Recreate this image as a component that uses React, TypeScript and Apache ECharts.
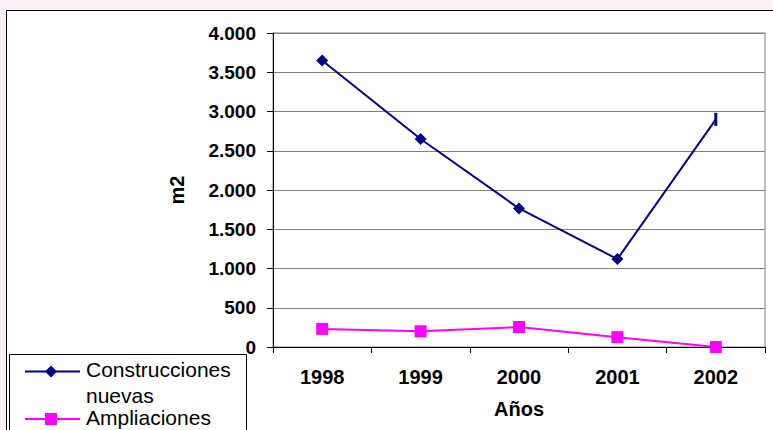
import React, { useEffect, useRef } from "react";
import * as echarts from "echarts";

const years = ["1998", "1999", "2000", "2001", "2002"];
const nuevas = [3650, 2650, 1765, 1120, 2900];
const ampliaciones = [230, 200, 255, 125, 0];
const seriesNames = ["Construcciones nuevas", "Ampliaciones"];
const legendLines = [["Construcciones", "nuevas"], ["Ampliaciones"]];

const FONT = "'Liberation Sans', Arial, sans-serif";

export default function App() {
  const ref = useRef<HTMLDivElement>(null);
  useEffect(() => {
    if (!ref.current) return;
    const chart = echarts.init(ref.current, undefined, { renderer: "svg" });
    const option: any = {
      animation: false,
      backgroundColor: "#FDEFF7",
      textStyle: { fontFamily: FONT },
      grid: {
        left: 273,
        top: 33,
        right: 8,
        bottom: 83,
        show: true,
        borderColor: "#7f7f7f",
        borderWidth: 1,
        backgroundColor: "#ffffff",
      },
      xAxis: {
        type: "category",
        data: years,
        boundaryGap: true,
        name: "Años",
        nameLocation: "middle",
        nameGap: 52,
        nameTextStyle: { fontFamily: FONT, fontWeight: "bold", fontSize: 20, color: "#000" },
        axisLine: { lineStyle: { color: "#000", width: 1 } },
        axisTick: { show: true, length: 6, alignWithLabel: false, lineStyle: { color: "#000" } },
        axisLabel: { fontFamily: FONT, fontWeight: "bold", fontSize: 20, color: "#000", margin: 20 },
        splitLine: { show: false },
      },
      yAxis: {
        type: "value",
        min: 0,
        max: 4000,
        interval: 500,
        name: "m2",
        nameLocation: "middle",
        nameGap: 86,
        nameRotate: 90,
        nameTextStyle: { fontFamily: FONT, fontWeight: "bold", fontSize: 20, color: "#000" },
        axisLine: { show: true, lineStyle: { color: "#000", width: 1 } },
        axisTick: { show: true, length: 6, lineStyle: { color: "#000" } },
        axisLabel: {
          fontFamily: FONT,
          fontWeight: "bold",
          fontSize: 19,
          color: "#000",
          margin: 17,
          formatter: (v: number) => v.toLocaleString("de-DE"),
        },
        splitLine: { show: true, lineStyle: { color: "#7f7f7f", width: 1 } },
      },
      series: [
        {
          name: seriesNames[0],
          type: "line",
          data: nuevas.map((v, i) =>
            i === nuevas.length - 1 ? { value: v, symbol: "rect", symbolSize: [3, 13] } : v
          ),
          symbol: "diamond",
          symbolSize: 12,
          lineStyle: { color: "#000080", width: 2 },
          itemStyle: { color: "#000080" },
        },
        {
          name: seriesNames[1],
          type: "line",
          data: ampliaciones,
          symbol: "rect",
          symbolSize: 12,
          lineStyle: { color: "#FF00FF", width: 2 },
          itemStyle: { color: "#FF00FF" },
        },
      ],
      graphic: [
        {
          type: "rect",
          z: -10,
          silent: true,
          shape: { x: 6.5, y: 10.5, width: 780, height: 440 },
          style: { fill: "#ffffff", stroke: "#000", lineWidth: 1 },
        },
        {
          type: "rect",
          z: 10,
          shape: { x: 9.5, y: 354.5, width: 237, height: 100 },
          style: { fill: "#ffffff", stroke: "#000", lineWidth: 1 },
        },
        {
          type: "line",
          z: 11,
          shape: { x1: 25, y1: 371.5, x2: 80, y2: 371.5 },
          style: { stroke: "#000080", lineWidth: 2 },
        },
        {
          type: "polygon",
          z: 12,
          shape: { points: [[51, 365.5], [57, 371.5], [51, 377.5], [45, 371.5]] },
          style: { fill: "#000080" },
        },
        {
          type: "line",
          z: 11,
          shape: { x1: 25, y1: 419, x2: 80, y2: 419 },
          style: { stroke: "#FF00FF", lineWidth: 2 },
        },
        {
          type: "rect",
          z: 12,
          shape: { x: 45, y: 413, width: 12, height: 12 },
          style: { fill: "#FF00FF" },
        },
        {
          type: "text",
          z: 12,
          x: 86,
          y: 369,
          style: { text: legendLines[0][0], font: `21px ${FONT}`, fill: "#000", verticalAlign: "middle" },
        },
        {
          type: "text",
          z: 12,
          x: 86,
          y: 395,
          style: { text: legendLines[0][1], font: `21px ${FONT}`, fill: "#000", verticalAlign: "middle" },
        },
        {
          type: "text",
          z: 12,
          x: 86,
          y: 417,
          style: { text: legendLines[1][0], font: `21px ${FONT}`, fill: "#000", verticalAlign: "middle" },
        },
      ],
    };
    chart.setOption(option);
    return () => chart.dispose();
  }, []);
  return (
    <div
      ref={ref}
      style={{ position: "fixed", left: 0, top: 0, width: 773, height: 430 }}
    />
  );
}
